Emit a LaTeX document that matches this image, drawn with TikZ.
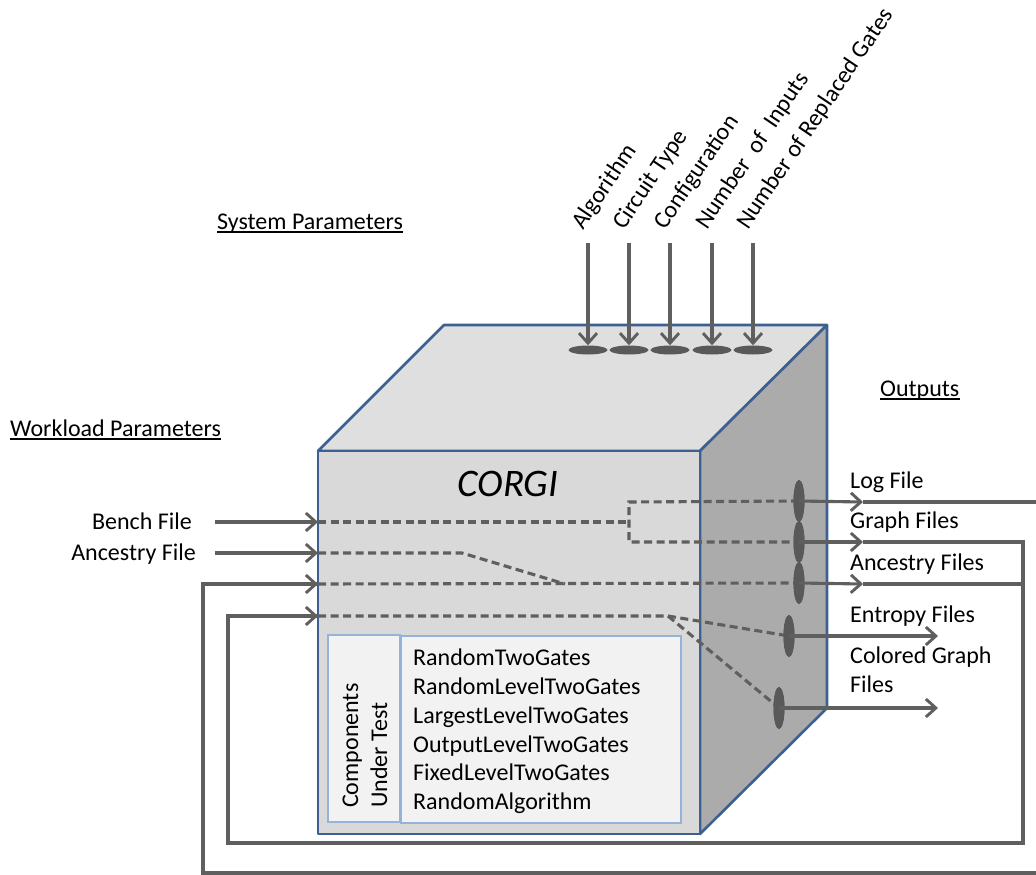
\documentclass[tikz,border=0pt]{standalone}
\usepackage{fontspec}
\setmainfont{Carlito}
\usetikzlibrary{arrows.meta,shapes.geometric}
\definecolor{edgeblue}{RGB}{60,96,146}
\definecolor{frontgray}{RGB}{217,217,217}
\definecolor{topgray}{RGB}{223,223,223}
\definecolor{sidegray}{RGB}{171,171,171}
\definecolor{conn}{RGB}{95,95,95}
\definecolor{dotc}{RGB}{89,89,89}
\definecolor{boxblue}{RGB}{149,179,215}
\definecolor{boxfill}{RGB}{242,242,242}
\begin{document}
\begin{tikzpicture}[x=1pt,y=-1pt,
  txt/.style={inner sep=0pt, font=\fontsize{24}{29}\selectfont},
  face/.style={draw=edgeblue, line width=2.6pt, line join=round},
  wire/.style={draw=conn, line width=3.1pt},
  arr/.style={wire, -{Straight Barb[length=10pt,width=18pt,line width=2.9pt]}},
  dsh/.style={draw=conn, line width=3.1pt, dash pattern=on 8pt off 4.5pt},
  hdot/.style={ellipse, fill=dotc, minimum width=39pt, minimum height=9pt, inner sep=0pt},
  vdot/.style={ellipse, fill=dotc, minimum width=11pt, minimum height=42pt, inner sep=0pt},
  ulin/.style={draw=black, line width=1.3pt}
]
\useasboundingbox (0,0) rectangle (1036,875);

% cube
\path[face, fill=topgray] (318,451) -- (444,325) -- (827,325) -- (700,451) -- cycle;
\path[face, fill=sidegray] (700,451) -- (827,325) -- (827,708) -- (700,834) -- cycle;
\path[face, fill=frontgray] (318,451) rectangle (700,834);

% components box
\draw[draw=boxblue, fill=boxfill, line width=1.2pt] (401,636) rectangle (681,823);
\draw[draw=boxblue, fill=boxfill, line width=1.2pt] (328,635) rectangle (400,822);
\node[txt, rotate=90, anchor=base west] (cut1) at (358,808) {Components};
\node[txt, rotate=90, anchor=base west] (cut2) at (387,808) {Under Test};
\node[txt, anchor=base west] (c1) at (413,665) {RandomTwoGates};
\node[txt, anchor=base west] (c2) at (413,694) {RandomLevelTwoGates};
\node[txt, anchor=base west] (c3) at (413,723) {LargestLevelTwoGates};
\node[txt, anchor=base west] (c4) at (413,752) {OutputLevelTwoGates};
\node[txt, anchor=base west] (c5) at (413,780) {FixedLevelTwoGates};
\node[txt, anchor=base west] (c6) at (413,809) {RandomAlgorithm};

\node[inner sep=0pt, font=\itshape\fontsize{39}{44}\selectfont, anchor=base] (corgi) at (508,496) {CORGI};

% coordinates
\coordinate (bx) at (629,522);
\coordinate (b1) at (629,502);
\coordinate (b2) at (629,542);
\coordinate (ak) at (462,553);
\coordinate (aj) at (565,584);
\coordinate (fk) at (668,616);
\coordinate (in1) at (318,522);
\coordinate (in2) at (318,553);
\coordinate (in3) at (318,584);
\coordinate (in4) at (318,616);
\coordinate (s1) at (215,522);
\coordinate (s2) at (215,553);

% right ellipses
\node[vdot] (o1) at (799,501) {};
\node[vdot] (o2) at (799,542) {};
\node[vdot] (o3) at (799,583) {};
\node[vdot] (o4) at (789,636) {};
\node[vdot] (o5) at (779,708) {};

% dashed internal paths
\draw[dsh] (in1) -- (bx);
\draw[dsh] (o1.center) -- (b1) -- (b2) -- (o2.center);
\draw[dsh] (in2) -- (ak) -- (aj);
\draw[dsh] (in3) -- (o3.center);
\draw[dsh] (in4) -- (fk) -- (o4.center);
\draw[dsh] (fk) -- (o5.center);

% redraw ellipses on top
\node[vdot] at (o1) {};
\node[vdot] at (o2) {};
\node[vdot] at (o3) {};
\node[vdot] at (o4) {};
\node[vdot] at (o5) {};

% outputs
\coordinate (m1) at (863,502);
\coordinate (m2) at (863,542);
\coordinate (m3) at (863,584);
\coordinate (r1) at (1036,502);
\coordinate (r2) at (1023,542);
\coordinate (r3) at (1023,584);
\coordinate (r2b) at (1023,843);
\coordinate (l2b) at (228,843);
\coordinate (l2) at (228,616);
\coordinate (r4b) at (1036,873);
\coordinate (l3b) at (203,873);
\coordinate (l3) at (203,584);
\coordinate (e4) at (938,636);
\coordinate (e5) at (938,708);

\draw[arr] (o1.center) -- (m1);
\draw[wire] (m1) -- (r1);
\draw[arr] (o2.center) -- (m2);
\draw[wire, line join=miter] (m2) -- (r2) -- (r2b) -- (l2b) -- (l2) -- (in4);
\draw[arr] (l2) -- (in4);
\draw[arr] (o3.center) -- (m3);
\draw[wire] (m3) -- (r3);
\draw[wire, line join=miter] (r4b) -- (l3b) -- (l3) -- (in3);
\draw[arr] (l3) -- (in3);
\draw[arr] (o4.center) -- (e4);
\draw[arr] (o5.center) -- (e5);

% inputs
\draw[arr] (s1) -- (in1);
\draw[arr] (s2) -- (in2);

% top ellipses and arrows
\node[hdot] (t1) at (588,350) {};
\node[hdot] (t2) at (629,350) {};
\node[hdot] (t3) at (670,350) {};
\node[hdot] (t4) at (712,350) {};
\node[hdot] (t5) at (753,350) {};
\coordinate (a1) at (588,243);
\coordinate (a2) at (629,243);
\coordinate (a3) at (670,243);
\coordinate (a4) at (712,243);
\coordinate (a5) at (753,243);
\draw[arr] (a1) -- (t1.north);
\draw[arr] (a2) -- (t2.north);
\draw[arr] (a3) -- (t3.north);
\draw[arr] (a4) -- (t4.north);
\draw[arr] (a5) -- (t5.north);

\node[txt, anchor=base west, rotate=56] (p1) at (583,231) {Algorithm};
\node[txt, anchor=base west, rotate=56] (p2) at (624,231) {Circuit Type};
\node[txt, anchor=base west, rotate=56] (p3) at (665,231) {Configuration};
\node[txt, anchor=base west, rotate=56] (p4) at (707,231) {Number\ \ of\ \ Inputs};
\node[txt, anchor=base west, rotate=56] (p5) at (748,231) {Number of Replaced Gates};

% headings
\node[txt, anchor=base west] (sys) at (217,229) {System Parameters};
\draw[ulin] ([yshift=-3pt]sys.base west) -- ([yshift=-3pt]sys.base east);
\node[txt, anchor=base west] (wl) at (10,436) {Workload Parameters};
\draw[ulin] ([yshift=-3pt]wl.base west) -- ([yshift=-3pt]wl.base east);
\node[txt, anchor=base west] (outp) at (880,396) {Outputs};
\draw[ulin] ([yshift=-3pt]outp.base west) -- ([yshift=-3pt]outp.base east);

% input labels
\node[txt, anchor=base east] (bl) at (192,529) {Bench File};
\node[txt, anchor=base east] (al) at (196,560) {Ancestry File};

% output labels
\node[txt, anchor=base west] (ol1) at (850,488) {Log File};
\node[txt, anchor=base west] (ol2) at (850,528) {Graph Files};
\node[txt, anchor=base west] (ol3) at (850,570) {Ancestry Files};
\node[txt, anchor=base west] (ol4) at (850,622) {Entropy Files};
\node[txt, anchor=base west] (ol5) at (850,663) {Colored Graph};
\node[txt, anchor=base west] (ol6) at (850,692) {Files};
\end{tikzpicture}
\end{document}
